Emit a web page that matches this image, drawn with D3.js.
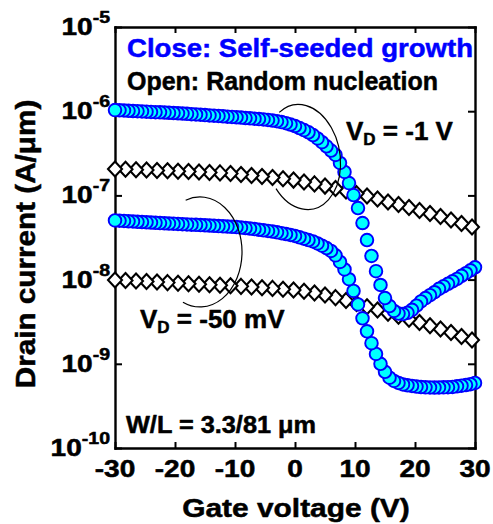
<!DOCTYPE html>
<html>
<head>
<meta charset="utf-8">
<script src="https://cdn.jsdelivr.net/npm/d3@7"></script>
<style>
  html, body { margin: 0; padding: 0; background: #fff; }
  svg { display: block; }
  text { font-family: "Liberation Sans", Arial, sans-serif; font-weight: bold; white-space: pre; }
</style>
</head>
<body>
<svg id="chart" width="493" height="524"></svg>
<script>
// Gate sweep of the self-seeded devices (circles), V
const vgClose = [-30, -29.25, -28.5, -27.75, -27, -26.25, -25.5, -24.75, -24, -23.25, -22.5, -21.75, -21, -20.25,
  -19.5, -18.75, -18, -17.25, -16.5, -15.75, -15, -14.25, -13.5, -12.75, -12, -11.25, -10.5, -9.75, -9, -8.25,
  -7.5, -6.75, -6, -5.25, -4.5, -3.75, -3, -2.25, -1.5, -0.75, 0, 0.75, 1.5, 2.25, 3, 3.75, 4.5, 5.25, 6, 6.75,
  7.5, 8.25, 9, 9.75, 10.5, 11.25, 12, 12.75, 13.5, 14.25, 15, 15.75, 16.5, 17.25, 18, 18.75, 19.5, 20.25, 21,
  21.75, 22.5, 23.25, 24, 24.75, 25.5, 26.25, 27, 27.75, 28.5, 29.25, 30];

// Drain current, A/µm, self-seeded growth at VD = -1 V
const closeVd1 = [1.03e-6, 1.025e-6, 1.02e-6, 1.01e-6, 1.005e-6, 1.0e-6, 9.95e-7, 9.88e-7, 9.8e-7, 9.74e-7, 9.7e-7,
  9.64e-7, 9.58e-7, 9.52e-7, 9.45e-7, 9.38e-7, 9.3e-7, 9.22e-7, 9.15e-7, 9.08e-7, 9.0e-7, 8.92e-7, 8.85e-7, 8.78e-7,
  8.7e-7, 8.62e-7, 8.55e-7, 8.47e-7, 8.39e-7, 8.3e-7, 8.22e-7, 8.14e-7, 8.06e-7, 7.98e-7, 7.88e-7, 7.75e-7, 7.6e-7,
  7.42e-7, 7.2e-7, 6.95e-7, 6.67e-7, 6.31e-7, 5.96e-7, 5.61e-7, 5.21e-7, 4.75e-7, 4.28e-7, 3.83e-7, 3.41e-7, 3.02e-7,
  2.43e-7, 1.90e-7, 1.40e-7, 1.01e-7, 7.08e-8, 4.70e-8, 2.95e-8, 1.91e-8, 1.26e-8, 8.63e-9, 6.04e-9, 4.85e-9, 4.24e-9,
  3.95e-9, 3.90e-9, 4.03e-9, 4.37e-9, 4.90e-9, 5.50e-9, 6.03e-9, 6.53e-9, 7.08e-9, 7.76e-9, 8.32e-9, 8.91e-9, 9.55e-9,
  1.02e-8, 1.11e-8, 1.19e-8, 1.29e-8, 1.40e-8];

// Drain current, A/µm, self-seeded growth at VD = -50 mV
const closeVd50m = [5.04e-8, 5.0e-8, 4.97e-8, 4.93e-8, 4.9e-8, 4.86e-8, 4.83e-8, 4.79e-8, 4.76e-8, 4.72e-8, 4.69e-8,
  4.66e-8, 4.63e-8, 4.61e-8, 4.58e-8, 4.55e-8, 4.52e-8, 4.49e-8, 4.47e-8, 4.44e-8, 4.41e-8, 4.38e-8, 4.35e-8, 4.32e-8,
  4.29e-8, 4.26e-8, 4.24e-8, 4.2e-8, 4.15e-8, 4.1e-8, 4.04e-8, 3.98e-8, 3.91e-8, 3.85e-8, 3.79e-8, 3.72e-8, 3.64e-8,
  3.56e-8, 3.48e-8, 3.39e-8, 3.30e-8, 3.18e-8, 3.06e-8, 2.95e-8, 2.84e-8, 2.69e-8, 2.53e-8, 2.37e-8, 2.19e-8, 1.94e-8,
  1.62e-8, 1.32e-8, 1.01e-8, 7.33e-9, 5.07e-9, 3.47e-9, 2.43e-9, 1.76e-9, 1.31e-9, 1.0e-9, 8.04e-10, 6.84e-10, 6.25e-10,
  5.92e-10, 5.68e-10, 5.56e-10, 5.46e-10, 5.36e-10, 5.30e-10, 5.25e-10, 5.24e-10, 5.22e-10, 5.24e-10, 5.25e-10,
  5.27e-10, 5.31e-10, 5.40e-10, 5.50e-10, 5.60e-10, 5.73e-10, 5.92e-10];

// Gate sweep of the randomly nucleated devices (diamonds), V
const vgOpen = [-30, -28.25, -26.5, -24.75, -23, -21.25, -19.5, -17.75, -16, -14.25, -12.5, -10.75, -9, -7.25, -5.5,
  -3.75, -2, -0.25, 1.5, 3.25, 5, 6.75, 8.5, 10.25, 12, 13.75, 15.5, 17.25, 19, 20.75, 22.5, 24.25, 26, 27.75, 29.5];

// Drain current, A/µm, random nucleation at VD = -1 V
const openVd1 = [2.06e-7, 2.04e-7, 2.02e-7, 2.00e-7, 1.98e-7, 1.96e-7, 1.94e-7, 1.92e-7, 1.90e-7, 1.87e-7, 1.85e-7,
  1.82e-7, 1.77e-7, 1.72e-7, 1.68e-7, 1.63e-7, 1.58e-7, 1.52e-7, 1.44e-7, 1.37e-7, 1.29e-7, 1.21e-7, 1.13e-7, 1.05e-7,
  9.84e-8, 9.06e-8, 8.35e-8, 7.80e-8, 7.18e-8, 6.62e-8, 6.10e-8, 5.62e-8, 5.10e-8, 4.64e-8, 4.21e-8];

// Drain current, A/µm, random nucleation at VD = -50 mV
const openVd50m = [9.89e-9, 9.76e-9, 9.63e-9, 9.49e-9, 9.37e-9, 9.21e-9, 9.06e-9, 8.92e-9, 8.80e-9, 8.68e-9, 8.56e-9,
  8.44e-9, 8.31e-9, 8.17e-9, 8.01e-9, 7.86e-9, 7.69e-9, 7.52e-9, 7.26e-9, 6.93e-9, 6.56e-9, 6.11e-9, 5.65e-9, 5.20e-9,
  4.75e-9, 4.36e-9, 3.98e-9, 3.67e-9, 3.38e-9, 3.09e-9, 2.83e-9, 2.59e-9, 2.35e-9, 2.11e-9, 1.92e-9];

const xTicks = [-30, -20, -10, 0, 10, 20, 30];
const yTickExponents = [-10, -9, -8, -7, -6, -5];

const svg = d3.select("#chart");
const plot = { left: 115, right: 475, top: 27, bottom: 448 };

const x = d3.scaleLinear().domain([-30, 30]).range([plot.left, plot.right]);
const y = d3.scaleLog().domain([1e-10, 1e-5]).range([plot.bottom, plot.top]);

// heavy lettering: a thin outline in the fill colour thickens the bold face
function heavy(sel, colour) {
  return sel.attr("fill", colour).attr("stroke", colour).attr("stroke-width", 0.5).attr("stroke-linejoin", "round");
}

// ---- frame with inward ticks on all four sides ----
function styleAxis(g) {
  g.selectAll("path.domain").attr("stroke", "#000").attr("stroke-width", 2.4).attr("stroke-linecap", "square");
  g.selectAll(".tick line").attr("stroke", "#000").attr("stroke-width", 2);
  g.selectAll(".tick text").remove();
}
const yTickVals = yTickExponents.map(e => Math.pow(10, e));
svg.append("g").attr("transform", `translate(0,${plot.bottom})`)
  .call(d3.axisBottom(x).tickValues(xTicks).tickSizeInner(-6).tickSizeOuter(0)).call(styleAxis);
svg.append("g").attr("transform", `translate(0,${plot.top})`)
  .call(d3.axisTop(x).tickValues(xTicks).tickSizeInner(-6).tickSizeOuter(0)).call(styleAxis);
svg.append("g").attr("transform", `translate(${plot.left},0)`)
  .call(d3.axisLeft(y).tickValues(yTickVals).tickSizeInner(-7).tickSizeOuter(0)).call(styleAxis);
svg.append("g").attr("transform", `translate(${plot.right},0)`)
  .call(d3.axisRight(y).tickValues(yTickVals).tickSizeInner(-7).tickSizeOuter(0)).call(styleAxis);

// ---- tick labels ----
svg.append("g").selectAll("text").data(xTicks).join("text")
  .attr("transform", d => `translate(${x(d)},477) scale(1.22,1)`)
  .attr("text-anchor", "middle").attr("font-size", 23)
  .call(heavy, "#000")
  .text(d => String(d));

const yLab = svg.append("g").selectAll("text").data(yTickExponents).join("text")
  .attr("transform", d => `translate(110,${y(Math.pow(10, d)) + 8}) scale(1.22,1)`)
  .attr("text-anchor", "end").attr("font-size", 23)
  .call(heavy, "#000");
yLab.append("tspan").text("10");
yLab.append("tspan").attr("dy", -12).attr("font-size", 16).text(d => String(d));

// ---- axis titles ----
svg.append("text")
  .attr("transform", "translate(296,517) scale(1.15,1)")
  .attr("text-anchor", "middle").attr("font-size", 26)
  .call(heavy, "#000")
  .text("Gate voltage (V)");
svg.append("text")
  .attr("transform", "translate(35,244) rotate(-90) scale(1.06,1)")
  .attr("text-anchor", "middle").attr("font-size", 28)
  .call(heavy, "#000")
  .text("Drain current (A/\u03bcm)");

// ---- markers ----
const diamondPath = "M0,-7.5L7,0L0,7.5L-7,0Z";
function drawDiamonds(vals) {
  const pts = vgOpen.map((v, i) => [v, vals[i]]).reverse();
  svg.append("g").selectAll("path").data(pts).join("path")
    .attr("d", diamondPath)
    .attr("transform", d => `translate(${x(d[0])},${y(d[1])})`)
    .attr("fill", "#fff").attr("stroke", "#000").attr("stroke-width", 2.1)
    .attr("stroke-linejoin", "miter");
}
function drawCircles(vals) {
  const pts = vgClose.map((v, i) => [v, vals[i]]).reverse();
  svg.append("g").selectAll("circle").data(pts).join("circle")
    .attr("cx", d => x(d[0])).attr("cy", d => y(d[1])).attr("r", 6.3)
    .attr("fill", "#00ffff").attr("stroke", "#0000ff").attr("stroke-width", 1.9);
}
drawDiamonds(openVd1);
drawDiamonds(openVd50m);
drawCircles(closeVd50m);
drawCircles(closeVd1);

// ---- open rings grouping each pair of curves ----
const rings = [
  { v: 1.33, i: 2.86e-7, rx: 37, ry: 53, rot: -10, t0: -115, t1: 150 },
  { v: -15.83, i: 2.13e-8, rx: 42, ry: 55, rot: 0, t0: -110, t1: 114 }
];
rings.forEach(r => {
  const cx = x(r.v), cy = y(r.i);
  const th = r.rot * Math.PI / 180;
  const pt = t => {
    const a = r.rx * Math.cos(t * Math.PI / 180), b = r.ry * Math.sin(t * Math.PI / 180);
    return [cx + a * Math.cos(th) - b * Math.sin(th), cy + a * Math.sin(th) + b * Math.cos(th)];
  };
  const p0 = pt(r.t0), p1 = pt(r.t1);
  const large = (r.t1 - r.t0) > 180 ? 1 : 0;
  svg.append("path")
    .attr("d", `M${p0[0]},${p0[1]}A${r.rx},${r.ry} ${r.rot} ${large} 1 ${p1[0]},${p1[1]}`)
    .attr("fill", "none").attr("stroke", "#000").attr("stroke-width", 1.2);
});

// ---- legend and annotations ----
svg.append("text").attr("x", 127).attr("y", 57).attr("font-size", 26)
  .call(heavy, "#0000ff")
  .attr("textLength", 346).attr("lengthAdjust", "spacingAndGlyphs")
  .text("Close: Self-seeded growth");
svg.append("text").attr("x", 127).attr("y", 90).attr("font-size", 26)
  .call(heavy, "#000")
  .attr("textLength", 311).attr("lengthAdjust", "spacingAndGlyphs")
  .text("Open: Random nucleation");

function vdLabel(px, py, rest) {
  const t = svg.append("text").attr("x", px).attr("y", py).attr("font-size", 26).call(heavy, "#000");
  t.append("tspan").text("V");
  t.append("tspan").attr("dy", 5).attr("font-size", 17).text("D");
  t.append("tspan").attr("dy", -5).text(rest);
}
vdLabel(346, 140, " = -1 V");
vdLabel(140, 328, " = -50 mV");

svg.append("text").attr("x", 126).attr("y", 433).attr("font-size", 23)
  .call(heavy, "#000")
  .attr("textLength", 190).attr("lengthAdjust", "spacingAndGlyphs")
  .text("W/L = 3.3/81 \u03bcm");
</script>
</body>
</html>
